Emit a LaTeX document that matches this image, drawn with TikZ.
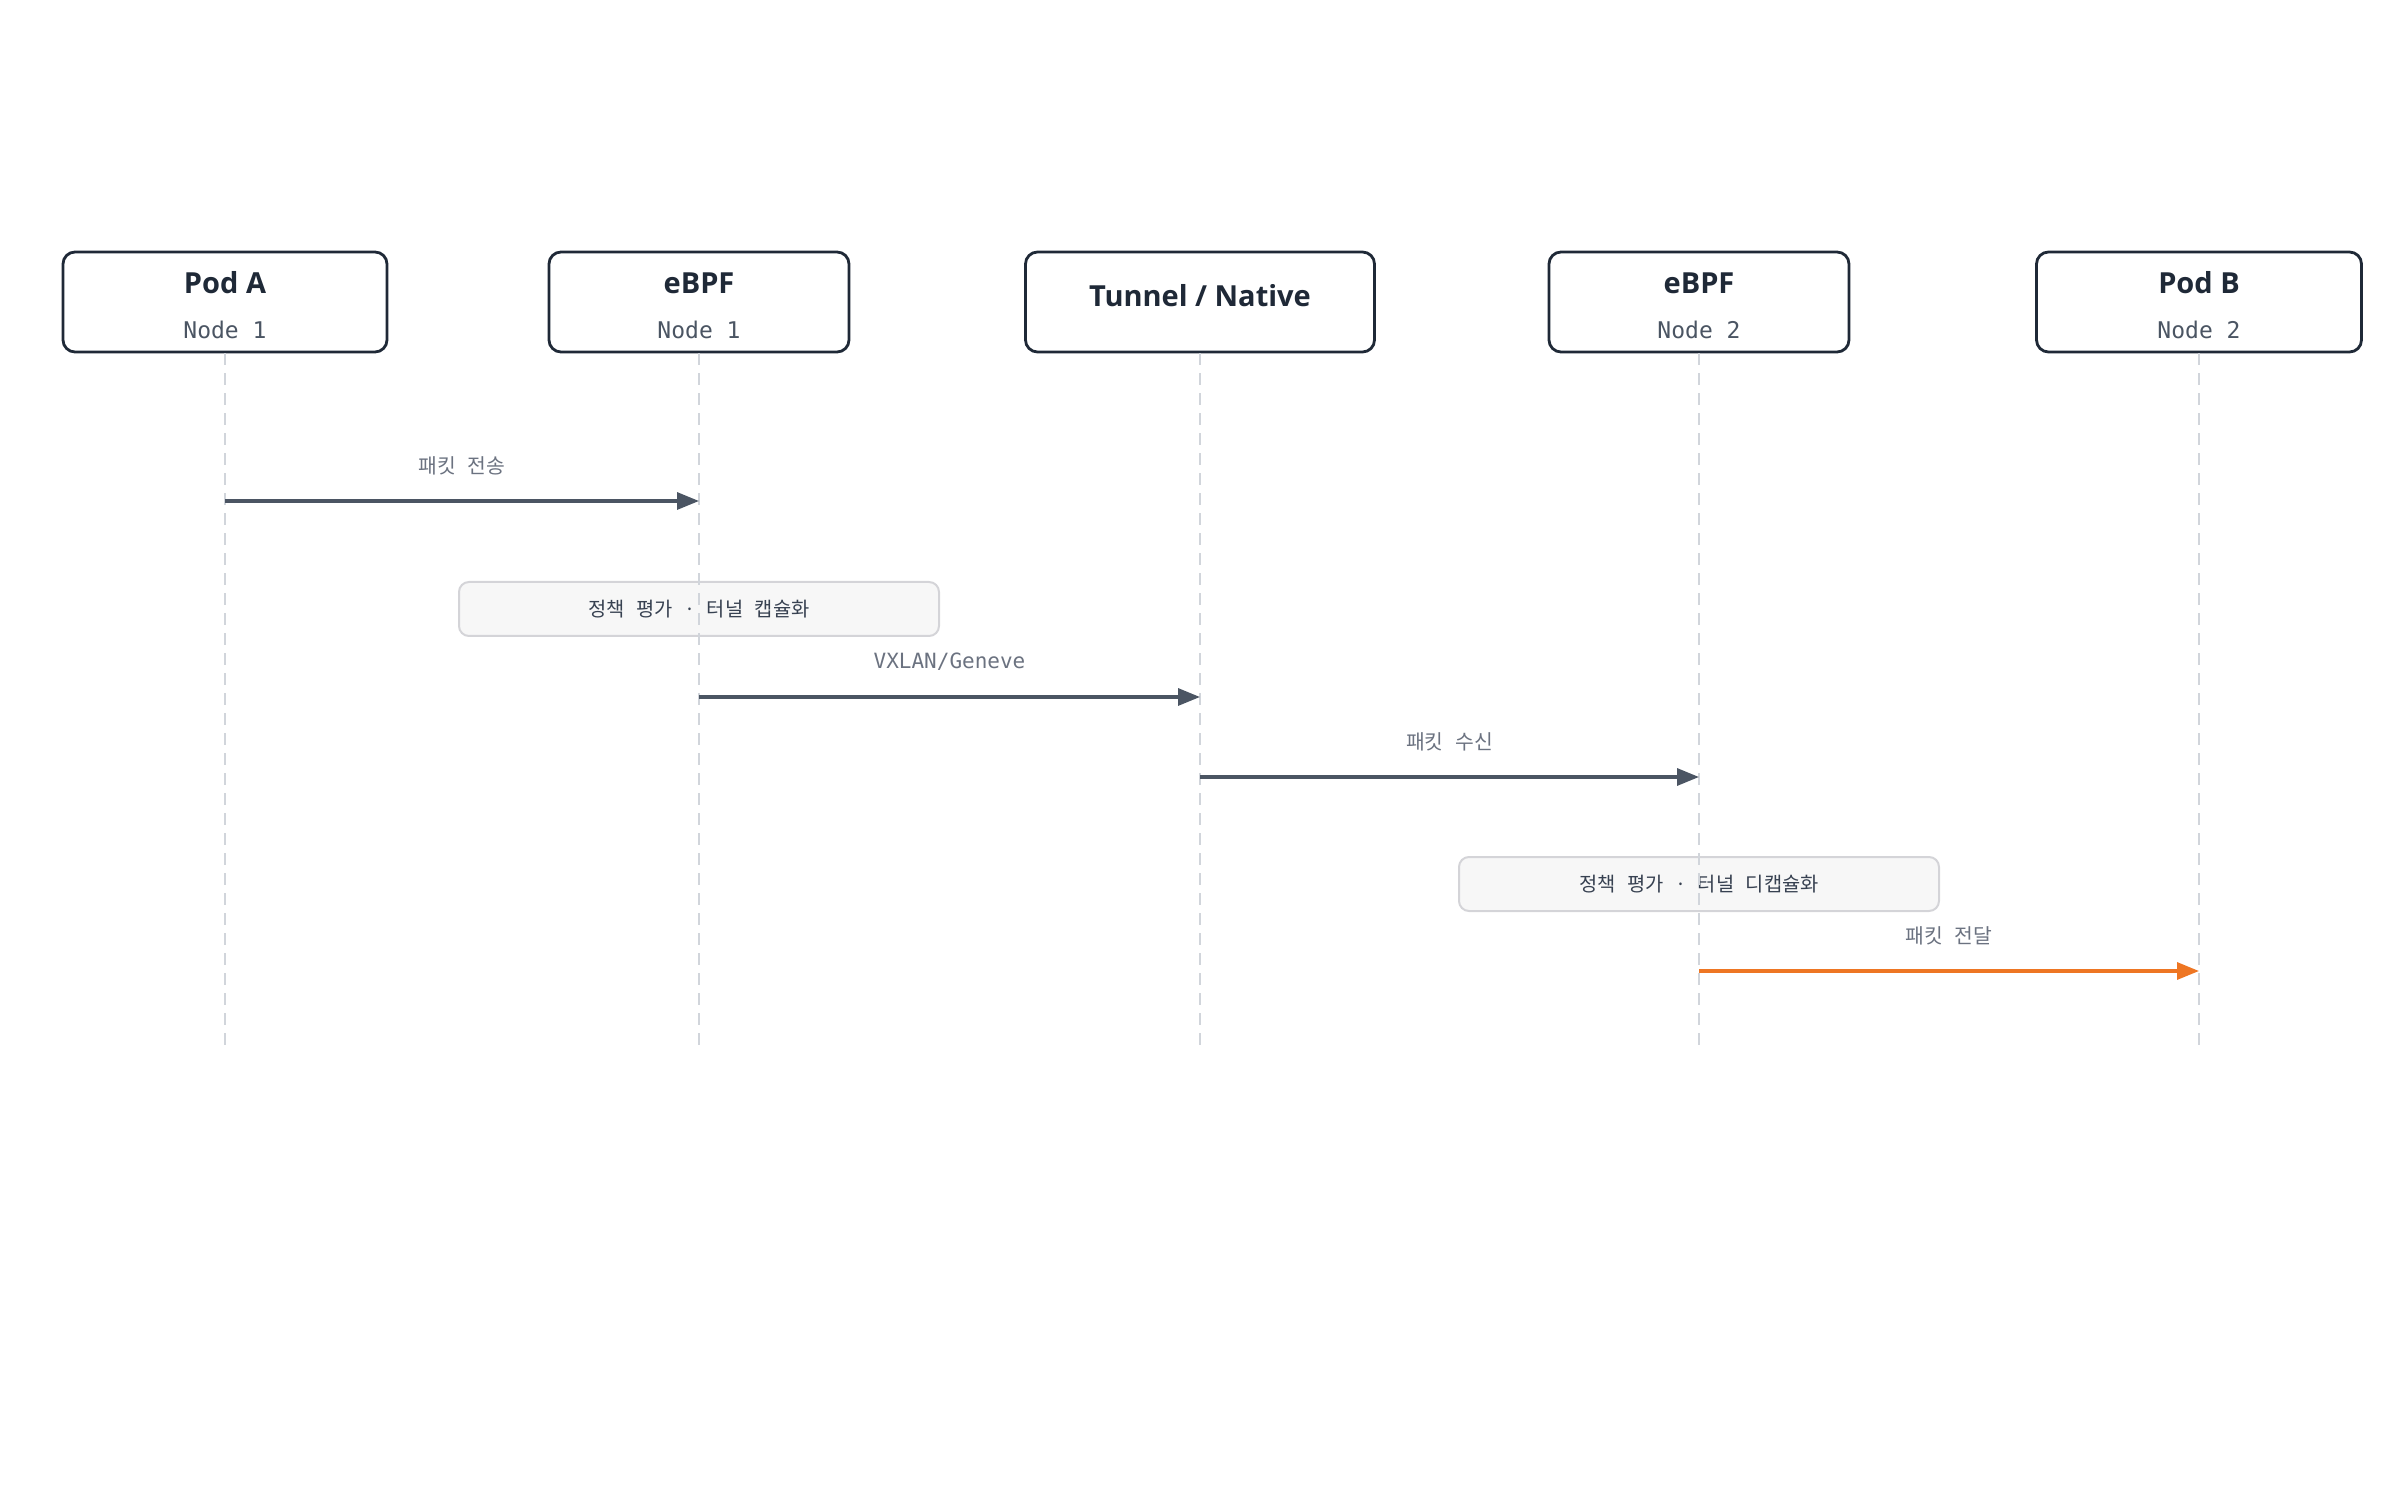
\documentclass[tikz,border=0pt]{standalone}
\usepackage{fontspec}
\setmainfont{Open Sans}
\newfontfamily\monofont{DejaVu Sans Mono}
\newfontfamily\krfont[WordSpace=2.6]{Noto Sans CJK KR}
\usetikzlibrary{positioning,arrows.meta}

\definecolor{ink}{HTML}{1F2937}
\definecolor{subgray}{HTML}{4B5563}
\definecolor{labelgray}{HTML}{6B7280}
\definecolor{notetext}{HTML}{374151}
\definecolor{arrowgray}{HTML}{4B5563}
\definecolor{lifegray}{HTML}{D1D5DB}
\definecolor{notefill}{HTML}{F7F7F7}
\definecolor{noteline}{HTML}{D4D4D8}
\definecolor{accent}{HTML}{EE7623}

\newcommand{\actortext}[2]{{\bfseries\fontsize{14.5}{22.5}\selectfont\rule{0pt}{14pt}#1}\\{\monofont\fontsize{11.5}{22.5}\selectfont\color{subgray}#2}}

\tikzset{
>={Triangle[length=11pt,width=8.5pt]},
actor/.style={draw=ink, line width=1.4pt, rounded corners=6pt, fill=white,
  minimum height=50pt, inner sep=0pt, align=center, text=ink,
  font=\fontsize{14.5}{22.5}\selectfont},
note/.style={draw=noteline, line width=1pt, rounded corners=5pt, fill=notefill,
  minimum width=240pt, minimum height=27pt, text=notetext,
  font=\krfont\fontsize{9.9}{12}\selectfont},
lifeline/.style={draw=lifegray, line width=1pt, dash pattern=on 6pt off 4pt},
msg/.style={->, draw=arrowgray, line width=1.6pt},
msglabel/.style={text=labelgray, font=\krfont\fontsize{10.2}{12}\selectfont},
}

\begin{document}
\begin{tikzpicture}
    [x=0.5pt, y=-0.5pt]

    \useasboundingbox (0,0) rectangle (2400,1502);

    \node [actor, minimum width=162pt] (podA) at (225,302) {\actortext{Pod A}{Node 1}};
    \node [actor, minimum width=150pt] (ebpfA) at (699,302) {\actortext{eBPF}{Node 1}};
    \node [actor, minimum width=174.5pt] (tunnel) at (1200,302) {\bfseries\rule[-6.5pt]{0pt}{1pt}Tunnel / Native};
    \node [actor, minimum width=150pt] (ebpfB) at (1699,302) {\actortext{eBPF}{Node 2}};
    \node [actor, minimum width=162.5pt] (podB) at (2199,302) {\actortext{Pod B}{Node 2}};

    \node [note] (encap) at (ebpfA |- 0,609) {정책 평가 · 터널 캡슐화};
    \node [note] (decap) at (ebpfB |- 0,884) {정책 평가 · 터널 디캡슐화};

    \foreach \n in {podA,ebpfA,tunnel,ebpfB,podB}
    {
        \coordinate (\n-end) at (\n |- 0,1050);
        \draw [lifeline] (\n.south) -- (\n-end);
    }

    \coordinate (s1) at (podA |- 0,501);
    \coordinate (r1) at (ebpfA |- 0,501);
    \coordinate (s2) at (ebpfA |- 0,697);
    \coordinate (r2) at (tunnel |- 0,697);
    \coordinate (s3) at (tunnel |- 0,777);
    \coordinate (r3) at (ebpfB |- 0,777);
    \coordinate (s4) at (ebpfB |- 0,971);
    \coordinate (r4) at (podB |- 0,971);

    \draw [msg] (s1) -- node[above=9pt, msglabel] {패킷 전송} (r1);
    \draw [msg] (s2) -- node[above=9pt, msglabel, font=\monofont\fontsize{10.5}{12}\selectfont] {VXLAN/Geneve} (r2);
    \draw [msg] (s3) -- node[above=9pt, msglabel] {패킷 수신} (r3);
    \draw [msg, draw=accent, fill=accent] (s4) -- node[above=9pt, msglabel] {패킷 전달} (r4);

\end{tikzpicture}
\end{document}
